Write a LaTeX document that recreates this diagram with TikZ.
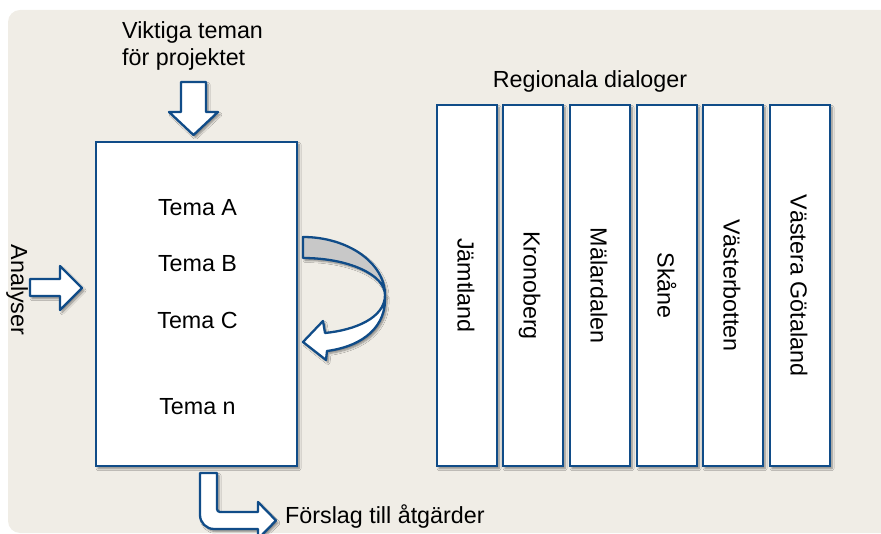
\documentclass[tikz,border=0pt]{standalone}
\usepackage{fontspec}
\setmainfont{Liberation Sans}
\usetikzlibrary{shadows.blur}
\definecolor{bg}{RGB}{240,237,230}
\definecolor{bord}{RGB}{16,76,136}
\definecolor{arrgray}{RGB}{200,200,200}
\begin{document}
\begin{tikzpicture}[x=1pt,y=-1pt,
  shd/.style={blur shadow={shadow xshift=2pt,shadow yshift=-2.5pt,shadow blur steps=6,shadow blur radius=2pt,shadow opacity=45}},
  box/.style={draw=bord,line width=2.6pt,fill=white,shd,inner sep=0pt},
  blk/.style={draw=bord,line width=2.3pt,fill=white,line join=round,shd},
  lbl/.style={font=\fontsize{23.3}{27}\selectfont,inner sep=0pt,text=black},
]
\useasboundingbox (0,0) rectangle (881,534);
\clip (0,0) rectangle (881,534);
\fill[bg, rounded corners=12pt] (8,10) rectangle (900,533);

% main box
\node[box, minimum width=201pt, minimum height=324pt] (main) at (196.5,304) {};
\node[lbl] (ta) at (197.5,208) {Tema A};
\node[lbl] (tb) at (197.5,264) {Tema B};
\node[lbl] (tc) at (197.5,320) {Tema C};
\node[lbl] (tn) at (197.5,407) {Tema n};

% top text and arrow
\node[lbl, align=left, anchor=north west] (vt) at (122,21) {Viktiga teman\\för projektet};
\draw[blk] (181,82) -- (206,82) -- (206,112) -- (218,112) -- (193.5,135) -- (169,112) -- (181,112) -- cycle;

% left arrow
\node[lbl, rotate=-90, anchor=base] (an) at (11,290) {Analyser};
\draw[blk] (30,279) -- (60,279) -- (60,266) -- (82,288) -- (60,310) -- (60,296) -- (30,296) -- cycle;

% bottom bent arrow
\draw[blk] (200,473) -- (200,515) .. controls (200,522.7) and (206.3,529) .. (214,529)
  -- (258,529) -- (258,539) -- (276,520.5) -- (258,502) -- (258,512) -- (220,512)
  .. controls (218.3,512) and (217,510.7) .. (217,509) -- (217,473) -- cycle;
\node[lbl, anchor=base west] (fo) at (285,523) {Förslag till åtgärder};

% curved arrow
\draw[blk, fill=arrgray] (303,237) .. controls (348,237) and (385,263) .. (385,295)
  .. controls (385,274.6) and (348,258) .. (303,258) -- cycle;
\draw[blk] (385,295) .. controls (385,318) and (355,330) .. (325,333) -- (323,321)
  -- (303,342) -- (326,360) -- (327,351) .. controls (364,346) and (387,326) .. (385,295) -- cycle;

% regional dialogues
\node[lbl, anchor=base] (rd) at (590,88) {Regionala dialoger};
\foreach \i/\x/\t in {1/467/Jämtland,2/533/Kronoberg,3/600/Mälardalen,4/667/Skåne,5/733/Västerbotten,6/800/Västera Götaland}{
  \node[box, minimum width=60pt, minimum height=361pt] (r\i) at (\x,285.5) {};
  \node[lbl, rotate=-90, anchor=base] (t\i) at ([xshift=-9.5pt]r\i.center) {\t};
}
\end{tikzpicture}
\end{document}
